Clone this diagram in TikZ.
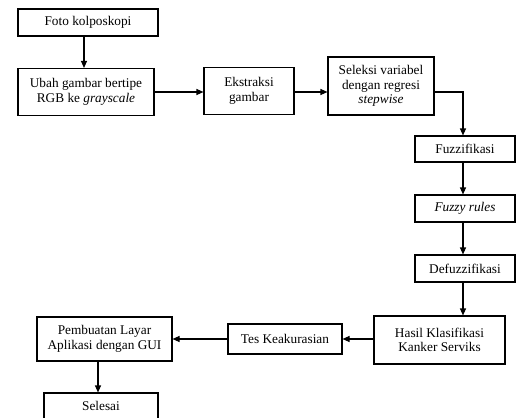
\documentclass[tikz,border=0pt]{standalone}
\usepackage{fontspec}
\setmainfont{Liberation Serif}
\usetikzlibrary{arrows.meta}
\begin{document}
\begin{tikzpicture}[x=1pt,y=-1pt,
  box/.style={draw,line width=1.1pt,align=center,inner sep=0pt,font=\fontsize{13.3}{14.7}\selectfont},
  arr/.style={line width=1.1pt,-{Triangle[length=7pt,width=6pt]}}]
\clip (0,0) rectangle (520,418);
\useasboundingbox (0,0) rectangle (520,418);
\node[box,minimum width=140pt,minimum height=27pt] (foto) at (88,22.5) {Foto kolposkopi};
\node[box,minimum width=136pt,minimum height=47pt] (ubah) at (86,92) {Ubah gambar bertipe\\RGB ke \textit{grayscale}};
\node[box,minimum width=90pt,minimum height=47pt] (ekstr) at (249,91) {Ekstraksi\\gambar};
\node[box,minimum width=106pt,minimum height=58pt] (sel) at (381,86) {Seleksi variabel\\dengan regresi\\\textit{stepwise}};
\node[box,minimum width=100pt,minimum height=26pt] (fuzz) at (465,149) {Fuzzifikasi};
\node[box,minimum width=100pt,minimum height=27pt] (rules) at (465,208.5) {\textit{Fuzzy rules}};
\node[box,minimum width=100pt,minimum height=27pt] (defuzz) at (465,268.5) {Defuzzifikasi};
\node[box,minimum width=131pt,minimum height=48pt] (hasil) at (439.5,340) {Hasil Klasifikasi\\Kanker Serviks};
\node[box,minimum width=114pt,minimum height=30pt] (tes) at (285,339) {Tes Keakurasian};
\node[box,minimum width=135pt,minimum height=44pt] (pemb) at (104.5,339) {Pembuatan Layar\\Aplikasi dengan GUI};
\node[box,minimum width=114pt,minimum height=26pt] (sls) at (101,406) {Selesai};
\coordinate (fx) at (84,0);
\coordinate (rx) at (463,0);
\coordinate (sx) at (98,0);
\coordinate (hy) at (0,92);
\draw[arr] (foto.south -| fx) -- (ubah.north -| fx);
\draw[arr] (ubah.east |- hy) -- (ekstr.west |- hy);
\draw[arr] (ekstr.east |- hy) -- (sel.west |- hy);
\draw[arr] (sel.east |- hy) -| (fuzz.north -| rx);
\draw[arr] (fuzz.south -| rx) -- (rules.north -| rx);
\draw[arr] (rules.south -| rx) -- (defuzz.north -| rx);
\draw[arr] (defuzz.south -| rx) -- (hasil.north -| rx);
\draw[arr] (hasil.west |- tes.east) -- (tes.east);
\draw[arr] (tes.west) -- (pemb.east |- tes.west);
\draw[arr] (pemb.south -| sx) -- (sls.north -| sx);
\end{tikzpicture}
\end{document}
